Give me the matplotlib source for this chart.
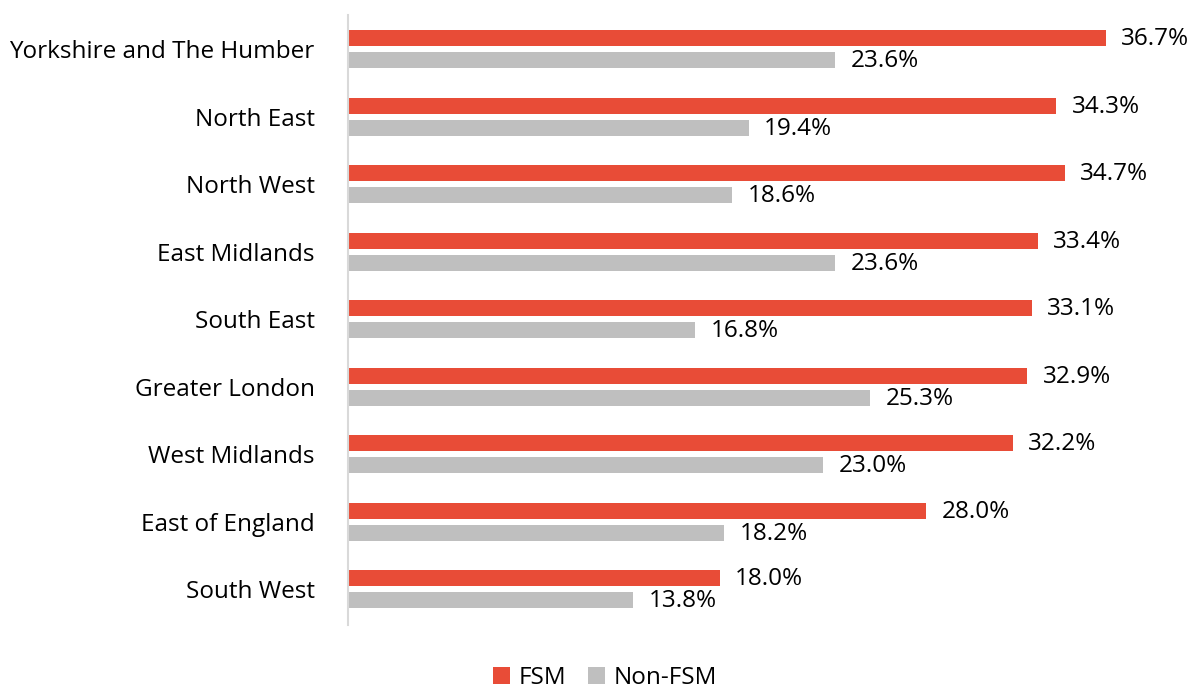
import matplotlib.pyplot as plt
import numpy as np

regions = ['Yorkshire and The Humber', 'North East', 'North West', 'East Midlands',
           'South East', 'Greater London', 'West Midlands', 'East of England', 'South West']
fsm = [36.7, 34.3, 34.7, 33.4, 33.1, 32.9, 32.2, 28.0, 18.0]
non_fsm = [23.6, 19.4, 18.6, 23.6, 16.8, 25.3, 23.0, 18.2, 13.8]

plt.rcParams['font.family'] = ['Open Sans', 'DejaVu Sans']
fs = 17.5

fig = plt.figure(figsize=(12.01, 6.89), dpi=100)
ax = fig.add_axes([348 / 1201, 1 - 625 / 689, (1174 - 348) / 1201, (625 - 15) / 689])

y = np.arange(len(regions))
h = 0.237
off = 0.163
red = '#E84C37'
grey = '#BFBFBF'
b1 = ax.barh(y - off, fsm, height=h, color=red, label='FSM')
b2 = ax.barh(y + off, non_fsm, height=h, color=grey, label='Non-FSM')

for v, yy in zip(fsm, y - off):
    ax.text(v + 0.75, yy + 0.02, f'{v:.1f}%', va='center', ha='left', fontsize=fs)
for v, yy in zip(non_fsm, y + off):
    ax.text(v + 0.75, yy + 0.02, f'{v:.1f}%', va='center', ha='left', fontsize=fs)

ax.set_xlim(0, 40)
ax.set_ylim(8.533, -0.504)
ax.set_yticks(y)
ax.set_yticklabels(regions, fontsize=fs)
ax.tick_params(axis='y', length=0, pad=24)
ax.set_xticks([])
for s in ['top', 'right', 'bottom']:
    ax.spines[s].set_visible(False)
ax.spines['left'].set_color('#D9D9D9')
ax.spines['left'].set_linewidth(1.5)

fig.legend(handles=[b1, b2], loc='center', bbox_to_anchor=(605 / 1201, 1 - 678 / 689),
           ncol=2, frameon=False, fontsize=fs, handlelength=0.7, handleheight=0.7,
           handletextpad=0.35, columnspacing=0.9)

fig.savefig('out.png', dpi=100)
